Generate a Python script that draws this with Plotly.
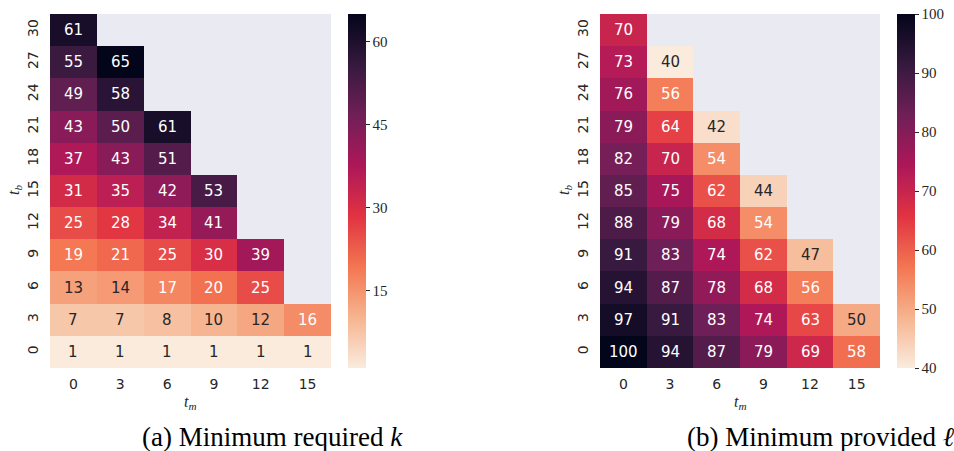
import plotly.graph_objects as go

# ---------------- data ----------------
t_m = [0, 3, 6, 9, 12, 15]
t_b = [0, 3, 6, 9, 12, 15, 18, 21, 24, 27, 30]

# rows = t_b, cols = t_m ; None = masked
k_required = [
    [1, 1, 1, 1, 1, 1],
    [7, 7, 8, 10, 12, 16],
    [13, 14, 17, 20, 25, None],
    [19, 21, 25, 30, 39, None],
    [25, 28, 34, 41, None, None],
    [31, 35, 42, 53, None, None],
    [37, 43, 51, None, None, None],
    [43, 50, 61, None, None, None],
    [49, 58, None, None, None, None],
    [55, 65, None, None, None, None],
    [61, None, None, None, None, None],
]
l_provided = [
    [100, 94, 87, 79, 69, 58],
    [97, 91, 83, 74, 63, 50],
    [94, 87, 78, 68, 56, None],
    [91, 83, 74, 62, 47, None],
    [88, 79, 68, 54, None, None],
    [85, 75, 62, 44, None, None],
    [82, 70, 54, None, None, None],
    [79, 64, 42, None, None, None],
    [76, 56, None, None, None, None],
    [73, 40, None, None, None, None],
    [70, None, None, None, None, None],
]
k_ticks = [15, 30, 45, 60]
l_ticks = [40, 50, 60, 70, 80, 90, 100]
captions = ["(a) Minimum required <i>k</i>", "(b) Minimum provided <i>ℓ</i>"]

# ---------------- style ----------------
rocket_hex = ["#03051A", "#35193E", "#701F57", "#AD1759",
              "#E13342", "#F37651", "#F6B48F", "#FAEBDD"]
rocket_pos = [0, 1/7, 2/7, 3/7, 4/7, 5/7, 6/7, 1]
rocket_r = [[1 - p, c] for p, c in zip(rocket_pos, rocket_hex)][::-1]


def hex2rgb(h):
    h = h.lstrip("#")
    return [int(h[i:i + 2], 16) / 255 for i in (0, 2, 4)]


def cmap_r(t):
    s = 1 - t
    for i in range(len(rocket_pos) - 1):
        if rocket_pos[i] <= s <= rocket_pos[i + 1]:
            f = (s - rocket_pos[i]) / (rocket_pos[i + 1] - rocket_pos[i])
            a, b = hex2rgb(rocket_hex[i]), hex2rgb(rocket_hex[i + 1])
            return [a[j] + f * (b[j] - a[j]) for j in range(3)]
    return hex2rgb(rocket_hex[-1])


def lum(rgb):
    out = []
    for c in rgb:
        out.append(c / 12.92 if c <= 0.03928 else ((c + 0.055) / 1.055) ** 2.4)
    return 0.2126 * out[0] + 0.7152 * out[1] + 0.0722 * out[2]


W, H = 954, 451
BG = "#EAEAF2"
DARK = "#262626"
SERIF = "'Liberation Serif', 'Times New Roman', serif"

panels = [
    dict(z=k_required, zmin=1, zmax=65, ticks=k_ticks, x0=50, x1=331, cb=348),
    dict(z=l_provided, zmin=40, zmax=100, ticks=l_ticks, x0=600, x1=880, cb=897),
]
top, bot = 14, 368

fig = go.Figure()
annotations = []
for i, p in enumerate(panels):
    xa = "x" if i == 0 else "x2"
    ya = "y" if i == 0 else "y2"
    fig.add_trace(go.Heatmap(
        z=p["z"], x=t_m, y=t_b, zmin=p["zmin"], zmax=p["zmax"],
        colorscale=rocket_r, xaxis=xa, yaxis=ya, hoverongaps=False,
        colorbar=dict(
            x=p["cb"] / W, xanchor="left", xref="paper",
            y=1 - top / H, yanchor="top", len=(bot - top) / H, lenmode="fraction",
            thickness=18, thicknessmode="pixels", outlinewidth=0,
            tickvals=p["ticks"], ticks="outside", ticklen=4, tickwidth=1,
            tickcolor=DARK, tickfont=dict(family=SERIF, size=15, color=DARK),
            ypad=0, xpad=0,
        ),
    ))
    for r, row in enumerate(p["z"]):
        for c, v in enumerate(row):
            if v is None:
                continue
            t = (v - p["zmin"]) / (p["zmax"] - p["zmin"])
            col = DARK if lum(cmap_r(t)) > 0.408 else "white"
            annotations.append(dict(
                x=t_m[c], y=t_b[r], xref=xa, yref=ya, text=str(v), showarrow=False,
                font=dict(family="DejaVu Sans", size=15, color=col)))
    cx = (p["x0"] + p["x1"]) / 2
    annotations.append(dict(x=cx / W, y=1 - 402 / H, xref="paper", yref="paper",
                            xanchor="center", yanchor="middle",
                            text="<i>t</i><sub><i>m</i></sub>", showarrow=False,
                            font=dict(family=SERIF, size=16, color=DARK)))
    annotations.append(dict(x=(p["x0"] - 36) / W, y=1 - 190 / H, xref="paper", yref="paper",
                            xanchor="center", yanchor="middle",
                            text="<i>t</i><sub><i>b</i></sub>", showarrow=False, textangle=-90,
                            font=dict(family=SERIF, size=16, color=DARK)))

for cx, cap in zip([272, 821], captions):
    annotations.append(dict(x=cx / W, y=1 - 437 / H, xref="paper", yref="paper",
                            xanchor="center", yanchor="middle",
                            text=cap, showarrow=False,
                            font=dict(family=SERIF, size=27, color="black")))

axis_common = dict(showgrid=False, zeroline=False, showline=False, ticks="",
                   tickfont=dict(family="DejaVu Sans", size=14, color=DARK))
layout = dict(
    width=W, height=H, margin=dict(l=0, r=0, t=0, b=0),
    paper_bgcolor="white", plot_bgcolor=BG, showlegend=False,
    annotations=annotations,
)
for i, p in enumerate(panels):
    sx = "" if i == 0 else "2"
    layout["xaxis" + sx] = dict(axis_common, domain=[p["x0"] / W, p["x1"] / W],
                                anchor="y" + sx, tickvals=t_m, range=[-1.5, 16.5],
                                ticklabelstandoff=6)
    layout["yaxis" + sx] = dict(axis_common, domain=[1 - bot / H, 1 - top / H],
                                anchor="x" + sx, tickvals=t_b, range=[-1.5, 31.5],
                                tickangle=-90, ticklabelstandoff=8)
fig.update_layout(**layout)
fig.write_html("out.html", config={"displayModeBar": False},
               post_script="document.body.style.margin='0';document.body.style.padding='0';")
